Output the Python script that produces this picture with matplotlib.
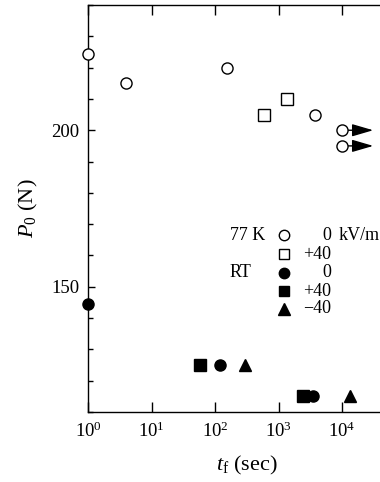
import matplotlib
matplotlib.use('Agg')
import matplotlib.pyplot as plt
from matplotlib.ticker import MultipleLocator, FixedLocator, NullLocator, LogFormatterMathtext

plt.rcParams['font.family'] = ['Liberation Serif', 'DejaVu Serif']
plt.rcParams['mathtext.fontset'] = 'custom'
plt.rcParams['mathtext.rm'] = 'Liberation Serif'
plt.rcParams['mathtext.it'] = 'Liberation Serif:italic'

# 77 K, 0 kV/m (open circles)
t_77k_0 = [1, 4.0, 155, 3760, 1.0e4, 1.0e4]
p_77k_0 = [224.5, 215, 220, 205, 200, 195]
# 77 K, +40 kV/m (open squares)
t_77k_p40 = [597, 1376]
p_77k_p40 = [205, 210]
# RT, 0 kV/m (filled circles)
t_rt_0 = [1, 120, 3530]
p_rt_0 = [144.5, 125, 115]
# RT, +40 kV/m (filled squares)
t_rt_p40 = [58, 2405]
p_rt_p40 = [125, 115]
# RT, -40 kV/m (filled triangles)
t_rt_m40 = [297, 13400]
p_rt_m40 = [125, 115]
# runs not broken (arrows)
arrow_start = [1.0e4, 1.0e4]
arrow_end = [3.1e4, 3.1e4]
arrow_p = [200, 195]

x_ticks = [1, 10, 100, 1000, 10000]

fig = plt.figure(figsize=(3.8, 4.82), dpi=100)
ax = fig.add_axes([0.2316, 0.1452, 0.8355, 0.8444])

for x0, x1, y in zip(arrow_start, arrow_end, arrow_p):
    ax.annotate('', xy=(x1, y), xytext=(x0, y),
                arrowprops=dict(arrowstyle='-|>,head_length=1.3,head_width=0.38',
                                color='black', lw=1.0, shrinkA=0, shrinkB=0,
                                mutation_scale=10),
                zorder=2)

ms = 8
ax.plot(t_77k_0, p_77k_0, 'o', ms=ms, mfc='white', mec='black', mew=1.0, zorder=3, clip_on=False)
ax.plot(t_77k_p40, p_77k_p40, 's', ms=ms, mfc='white', mec='black', mew=1.0, zorder=3)
ax.plot(t_rt_0, p_rt_0, 'o', ms=ms, mfc='black', mec='black', mew=1.0, zorder=3, clip_on=False)
ax.plot(t_rt_p40, p_rt_p40, 's', ms=ms, mfc='black', mec='black', mew=1.0, zorder=3)
ax.plot(t_rt_m40, p_rt_m40, '^', ms=ms + 1, mfc='black', mec='black', mew=1.0, zorder=3)

ax.set_xscale('log')
ax.set_xlim(1, 1e5)
ax.set_ylim(110, 240)

ax.xaxis.set_major_locator(FixedLocator(x_ticks))
ax.xaxis.set_minor_locator(NullLocator())
ax.xaxis.set_major_formatter(LogFormatterMathtext())
ax.yaxis.set_major_locator(MultipleLocator(50))
ax.yaxis.set_minor_locator(MultipleLocator(10))

ax.tick_params(axis='x', which='major', direction='in', length=7, width=1.0,
               top=True, labelsize=13.5, pad=7)
ax.tick_params(axis='y', which='major', direction='in', length=5, width=1.0,
               right=True, labelsize=13.5, pad=6)
ax.tick_params(axis='y', which='minor', direction='in', length=3.5, width=1.0, right=True)
for s in ax.spines.values():
    s.set_linewidth(1.0)

ax.set_xlabel(r'$t_{\mathrm{f}}$ (sec)', fontsize=16, labelpad=9)
ax.set_ylabel(r'$P_0$ (N)', fontsize=16, labelpad=8)

# legend drawn by hand
rows_y = [0.434, 0.388, 0.342, 0.297, 0.254]
mk_x = 0.618
val_x = 0.766
lg_fs = 13
ax.plot([mk_x], [rows_y[0]], 'o', transform=ax.transAxes, ms=7.5, mfc='white', mec='black', mew=1.0)
ax.plot([mk_x], [rows_y[1]], 's', transform=ax.transAxes, ms=7.5, mfc='white', mec='black', mew=1.0)
ax.plot([mk_x], [rows_y[2]], 'o', transform=ax.transAxes, ms=7.5, mfc='black', mec='black', mew=1.0)
ax.plot([mk_x], [rows_y[3]], 's', transform=ax.transAxes, ms=7.5, mfc='black', mec='black', mew=1.0)
ax.plot([mk_x], [rows_y[4]], '^', transform=ax.transAxes, ms=8.5, mfc='black', mec='black', mew=1.0)

ax.text(0.447, rows_y[0], '77 K', transform=ax.transAxes, fontsize=lg_fs, va='center', ha='left')
ax.text(0.447, rows_y[2], 'RT', transform=ax.transAxes, fontsize=lg_fs, va='center', ha='left')
for y, lab in zip(rows_y, ['0', '+40', '0', '+40', '\u221240']):
    ax.text(val_x, y, lab, transform=ax.transAxes, fontsize=lg_fs, va='center', ha='right')
ax.text(0.79, rows_y[0], 'kV/m', transform=ax.transAxes, fontsize=lg_fs, va='center', ha='left')

fig.savefig('out.png', dpi=100)
